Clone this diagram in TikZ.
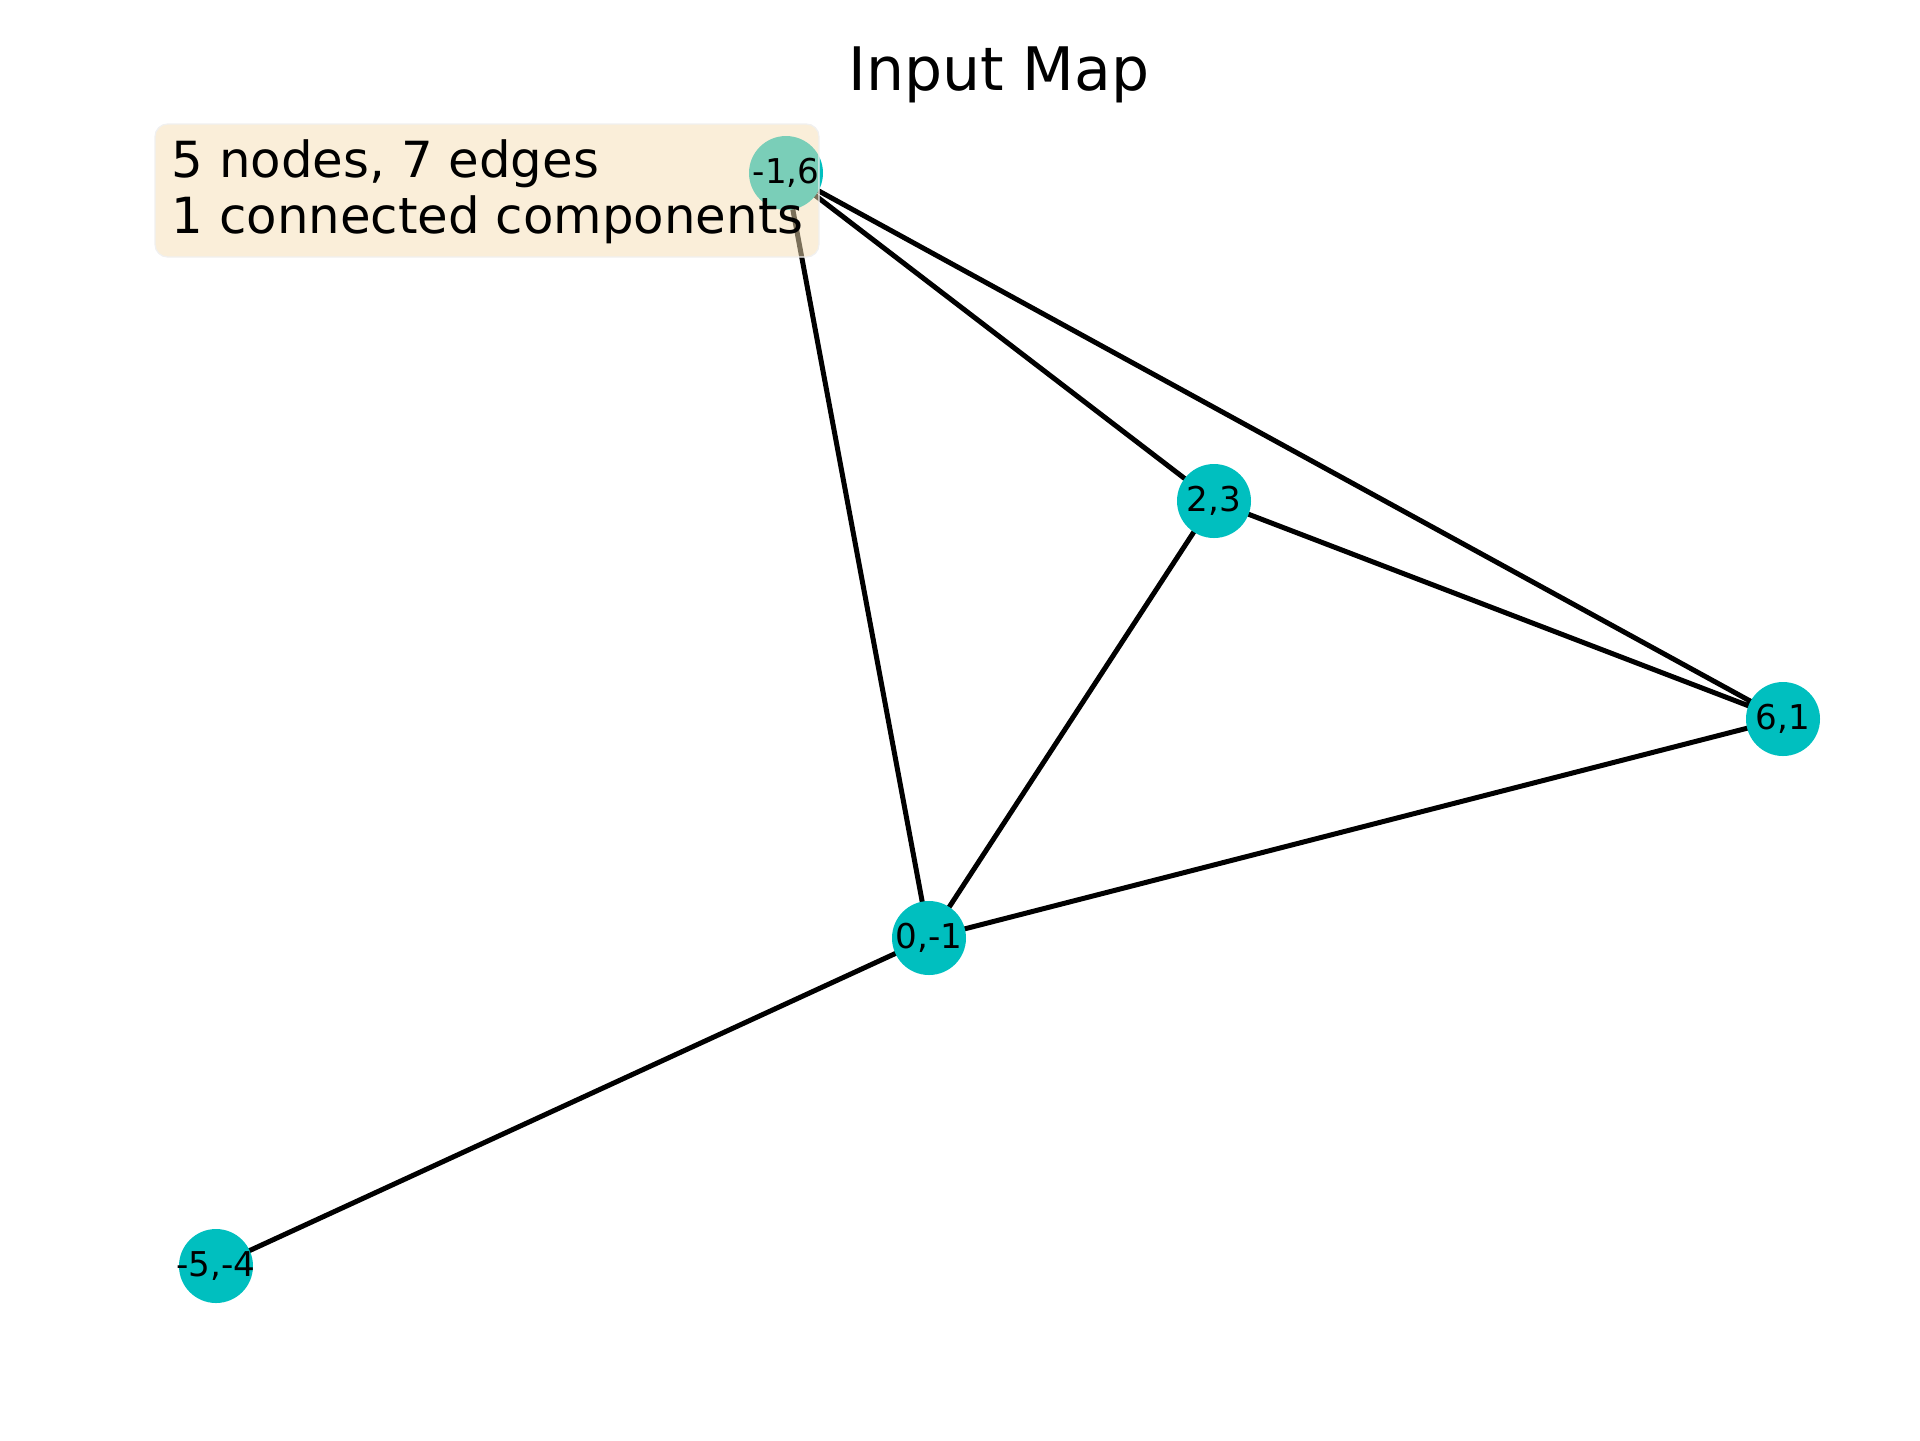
\documentclass[tikz,border=0pt]{standalone}
\usepackage{fontspec}
\setmainfont{DejaVu Sans}
\definecolor{nodecyan}{RGB}{0,191,191}
\definecolor{wheat}{RGB}{245,222,179}
\tikzset{
  vertex/.style = {shape=circle, fill=nodecyan, minimum size=74*0.24pt, inner sep=0pt},
  vlabel/.style = {font=\fontsize{8.2}{9.8}\selectfont, inner sep=0pt},
  link/.style   = {line width=1.2pt, black}
}
\begin{document}
\begin{tikzpicture}[x=0.24pt, y=-0.24pt]
    \useasboundingbox (0,0) rectangle (1920,1440);
    % graph
    \begin{scope}
      \coordinate (p16) at (786,173);
      \coordinate (p23) at (1214,501);
      \coordinate (p61) at (1783,719);
      \coordinate (p01) at (929,938);
      \coordinate (p54) at (216,1266);
      \draw[link] (p16) -- (p23) (p16) -- (p61) (p16) -- (p01)
      (p23) -- (p61) (p23) -- (p01)
      (p61) -- (p01) (p01) -- (p54);
      \node[vertex] (v16) at (p16) {};
      \node[vertex] (v23) at (p23) {};
      \node[vertex] (v61) at (p61) {};
      \node[vertex] (v01) at (p01) {};
      \node[vertex] (v54) at (p54) {};
    \end{scope}
    % info box
    \begin{scope}
      \draw[fill=wheat, fill opacity=0.5, draw=black!6, line width=0.3pt,
        rounded corners=3pt] (155,124) rectangle (819,257);
      \node[anchor=base west, inner sep=0pt, font=\fontsize{11.95}{14}\selectfont]
        (info1) at (171,177) {5 nodes, 7 edges};
      \node[anchor=base west, inner sep=0pt, font=\fontsize{11.95}{14}\selectfont]
        (info2) at (171,233) {1 connected components};
    \end{scope}
    % labels
    \node[vlabel] at (v16) {-1,6};
    \node[vlabel] at (v23) {2,3};
    \node[vlabel] at (v61) {6,1};
    \node[vlabel] at (v01) {0,-1};
    \node[vlabel] at (v54) {-5,-4};
    \node[anchor=base, inner sep=0pt, font=\fontsize{14.4}{17.3}\selectfont]
      (title) at (999,90) {Input Map};
  \end{tikzpicture}
\end{document}
